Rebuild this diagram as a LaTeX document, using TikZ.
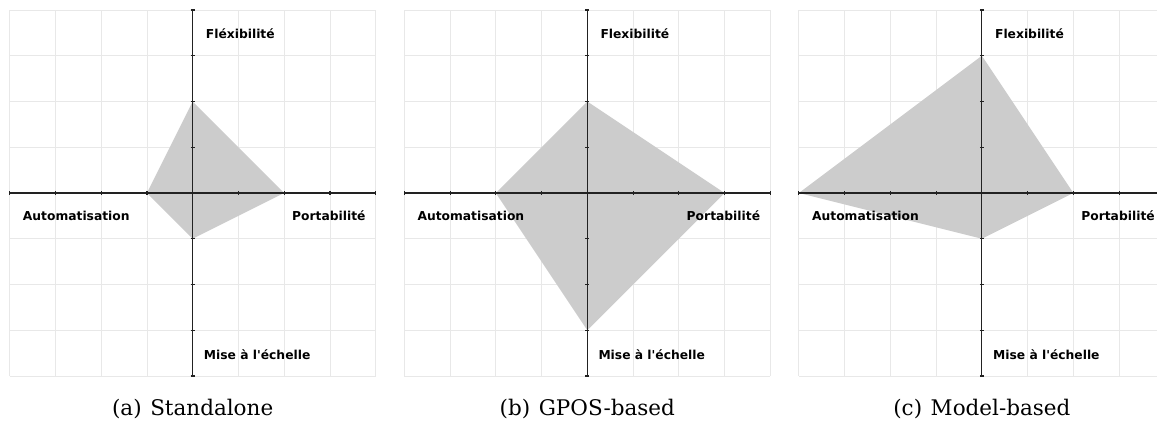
\documentclass[tikz,border=0pt]{standalone}
\usepackage{fontspec}
\newfontfamily\lblfont{DejaVu Sans}
\newfontfamily\captfont{DejaVu Serif}
\definecolor{gridgray}{HTML}{E8E8E8}
\definecolor{areagray}{HTML}{CCCCCC}
\definecolor{axisblack}{HTML}{222222}
\newcommand\gridu{45.75}
% #1 center x, #2 name suffix, #3 top label, #4 caption, #5 up, #6 right, #7 down, #8 left
\newcommand\drawpanel[8]{%
  \begin{scope}[shift={(#1,0)}]
    \foreach \i in {0,...,8} {
      \draw[gridline] ({-183+\i*\gridu},10) -- ({-183+\i*\gridu},376);
      \draw[gridline] (-183,{10+\i*\gridu}) -- (183,{10+\i*\gridu});
    }
    \fill[area] (0,{193-#5*\gridu}) -- ({#6*\gridu},193) -- (0,{193+#7*\gridu}) -- ({-#8*\gridu},193) -- cycle;
    \draw[axisline] (-183,193) -- (183,193);
    \draw[axisline] (0,10) -- (0,376);
    \foreach \i in {-4,...,4} {
      \draw[axisline] ({\i*\gridu},191) -- ({\i*\gridu},195);
      \draw[axisline] (-2,{193+\i*\gridu}) -- (2,{193+\i*\gridu});
    }
    \node[lbl, anchor=base west] (flex#2) at (13,38) {#3};
    \node[lbl, anchor=base west] (auto#2) at (-170,220.5) {Automatisation};
    \node[lbl, anchor=base east] (port#2) at (173,220.5) {Portabilité};
    \node[lbl, anchor=base west] (mise#2) at (11,359) {Mise à l'échelle};
    \node[capt, anchor=base] (cap#2) at (0,415) {#4};
  \end{scope}}
\begin{document}
\begin{tikzpicture}[x=1pt,y=-1pt,
  gridline/.style={draw=gridgray, line width=0.9pt},
  axisline/.style={draw=axisblack, line width=1.1pt},
  area/.style={fill=areagray},
  lbl/.style={font=\lblfont\bfseries\fontsize{12.3}{14}\selectfont, inner sep=0pt},
  capt/.style={font=\captfont\fontsize{21.5}{24}\selectfont, inner sep=0pt}]
\useasboundingbox (0,0) rectangle (1157,421);
\clip (0,0) rectangle (1157,421);
\drawpanel{192.7}{A}{Fléxibilité}{(a)\hspace{0.4em}Standalone}{2}{2}{1}{1}
\drawpanel{587.3}{B}{Flexibilité}{(b)\hspace{0.4em}GPOS-based}{2}{3}{3}{2}
\drawpanel{981.9}{C}{Flexibilité}{(c)\hspace{0.4em}Model-based}{3}{2}{1}{4}
\end{tikzpicture}
\end{document}
